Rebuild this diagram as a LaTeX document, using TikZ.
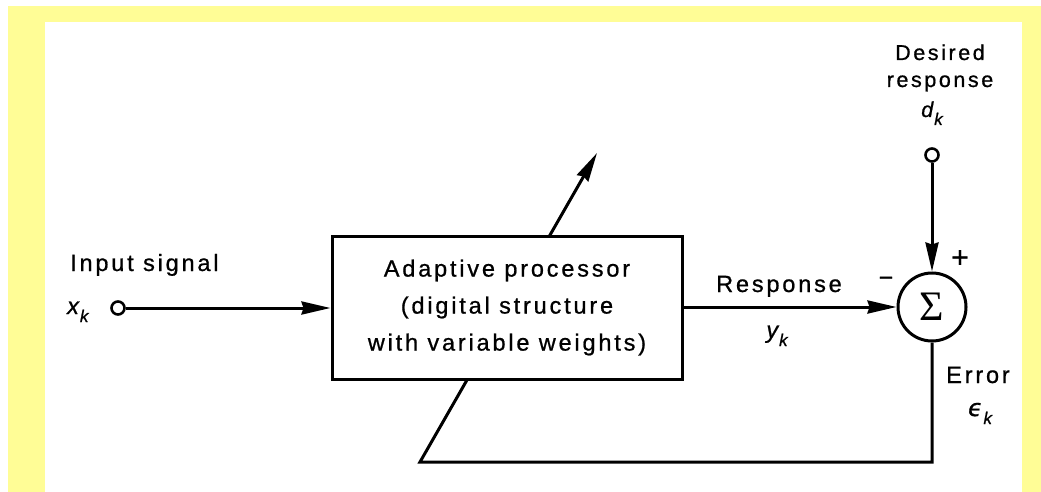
\documentclass[tikz,border=0pt]{standalone}
\usepackage{fontspec}
\setmainfont{Liberation Sans}[LetterSpace=12,FakeBold=0.8]
\newfontfamily\dejavu{DejaVu Sans}[FakeBold=0.8]
\newfontfamily\sigmafont{Liberation Serif}
\usetikzlibrary{arrows.meta}
\definecolor{frameyellow}{RGB}{255,253,150}
\newcommand{\subk}[1]{{\itshape #1}\kern1pt\raisebox{-8pt}{\fontsize{17}{17}\selectfont\itshape k}}
\begin{document}
\begin{tikzpicture}[x=1pt,y=-1pt,
  lbl/.style={font=\fontsize{23.5}{28}\selectfont, inner sep=0pt, anchor=base},
  lblsmall/.style={font=\fontsize{21.5}{27}\selectfont, inner sep=0pt, anchor=base},
  wire/.style={line width=3pt},
  arr/.style={wire, -{Stealth[length=29pt,width=13pt,inset=2pt]}},
  terminal/.style={circle, draw, line width=2.6pt, minimum size=13pt, inner sep=0pt, fill=white}]
\useasboundingbox (0,0) rectangle (1041,492);
\fill[white] (0,0) rectangle (1041,492);
\fill[frameyellow] (8,6) rectangle (1041,492);
\fill[white] (45,22) rectangle (1022,492);

\node[circle, draw, line width=3pt, minimum size=68pt, inner sep=0pt,
      font=\sigmafont\fontsize{42}{42}\selectfont] (sum) at (932,307) {Σ};
\node[terminal] (in) at (118,308) {};
\node[terminal] (dsr) at (932,155) {};

\coordinate (fbc) at (420,462);
\coordinate (tip) at (597,153);
\draw[arr] (sum.south) |- (fbc) -- (tip);

\node[draw, line width=3pt, minimum width=350pt, minimum height=143pt, fill=white,
      align=center, inner sep=0pt, font=\fontsize{23.5}{37}\selectfont] (proc) at (507,307.5)
      {Adaptive processor\\(digital structure\\with variable weights)};

\draw[arr] (in) -- (in -| proc.west);
\draw[arr] (proc.east |- sum) -- (sum.west);
\draw[arr] (dsr) -- (sum.north);

\node[lbl, anchor=base west] (insig) at (70,271) {Input signal};
\node[lbl, anchor=base west] (xk) at (67,314) {\subk{x}};
\node[lbl] (resp) at (779,292) {Response};
\node[lbl] (yk) at (777,338) {\subk{y}};
\node[inner sep=0pt, anchor=base, font=\fontsize{25}{25}\selectfont] (minus) at (886,286) {−};
\node[inner sep=0pt, anchor=base, font=\fontsize{30}{30}\selectfont] (plus) at (960,267.5) {+};
\node[lblsmall] (des1) at (940,60) {Desired};
\node[lblsmall] (des2) at (940,87) {response};
\node[lblsmall] (dk) at (932,117) {\subk{d}};
\node[lbl] (err) at (978,383) {Error};
\node[lbl] (ek) at (980,416) {\subk{{\dejavu\itshape ϵ}}};
\end{tikzpicture}
\end{document}
